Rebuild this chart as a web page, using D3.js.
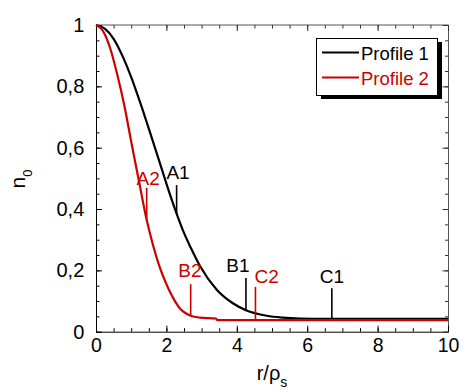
<!DOCTYPE html>
<html>
<head>
<meta charset="utf-8">
<script src="https://cdn.jsdelivr.net/npm/d3@7"></script>
<style>
  html, body { margin: 0; padding: 0; background: #fff; }
  svg { display: block; font-family: "Liberation Sans", Arial, sans-serif; }
</style>
</head>
<body>
<svg id="chart" width="464" height="390"></svg>
<script>
// ---- data ----
const p1R = [0, 0.25, 0.5, 0.78, 1.0, 1.16, 1.3, 1.5, 1.82, 2.0, 2.29, 2.5, 2.7, 2.95, 3.43, 3.9, 4.26, 4.85, 5.3, 5.8, 6.5, 10];
const p1N = [1.0, 0.988, 0.955, 0.892, 0.83, 0.779, 0.732, 0.662, 0.548, 0.483, 0.385, 0.322, 0.272, 0.215, 0.137, 0.092, 0.07, 0.052, 0.046, 0.043, 0.042, 0.042];
const p2R = [0, 0.2, 0.4, 0.6, 0.8, 1.0, 1.11, 1.2, 1.42, 1.53, 1.7, 1.82, 2.0, 2.1, 2.25, 2.39, 2.55, 2.69, 2.95, 3.4, 3.45, 10];
const p2N = [1.0, 0.98, 0.925, 0.84, 0.74, 0.62, 0.555, 0.503, 0.375, 0.322, 0.25, 0.207, 0.155, 0.13, 0.098, 0.075, 0.06, 0.052, 0.046, 0.043, 0.038, 0.038];
const seriesNames = ["Profile 1", "Profile 2"];
const seriesColors = ["#000000", "#cc0000"];

// annotation markers: label, series, r, top value, bottom value, label anchor (data units)
const markLabels = ["A1", "A2", "B1", "B2", "C2", "C1"];
const markSeries = [0, 1, 0, 1, 1, 0];
const markR      = [2.29, 1.44, 4.26, 2.69, 4.53, 6.7];
const markTop    = [0.478, 0.469, 0.175, 0.155, 0.146, 0.142];
const markBottom = [0.385, 0.366, 0.07, 0.052, 0.038, 0.042];
const labelR     = [2.33, 1.48, 4.03, 2.67, 4.85, 6.7];
const labelN     = [0.498, 0.478, 0.195, 0.178, 0.159, 0.159];

const xMajor = [0, 2, 4, 6, 8, 10];
const xMinor = d3.range(0, 10.001, 0.5);
const yMajor = [0, 0.2, 0.4, 0.6, 0.8, 1];
const yMinor = d3.range(0, 1.0001, 0.05);
const fmtY = d => d === 0 ? "0" : (d === 1 ? "1" : d3.format(".1f")(d).replace(".", ","));

// ---- layout ----
const svg = d3.select("#chart");
const L = 96, R = 448, T = 25, B = 331.7;
const x = d3.scaleLinear().domain([0, 10]).range([L, R]);
const y = d3.scaleLinear().domain([0, 1]).range([B, T]);

// frame top/right
svg.append("line").attr("x1", L).attr("x2", R + 0.5).attr("y1", T).attr("y2", T)
  .attr("stroke", "#555").attr("stroke-width", 1);
svg.append("line").attr("x1", R + 0.5).attr("x2", R + 0.5).attr("y1", T).attr("y2", B)
  .attr("stroke", "#555").attr("stroke-width", 1);

// bottom axis
const gx = svg.append("g").attr("transform", `translate(0,${B})`);
gx.call(d3.axisBottom(x).tickValues(xMinor).tickSizeInner(-3.5).tickSizeOuter(0).tickFormat(""));
gx.append("g").call(d3.axisBottom(x).tickValues(xMajor).tickSizeInner(-6).tickSizeOuter(0).tickPadding(6).tickFormat(d3.format("d")))
  .call(g => g.select(".domain").remove());
// top axis ticks
const gt = svg.append("g").attr("transform", `translate(0,${T})`);
gt.call(d3.axisTop(x).tickValues(xMinor).tickSizeInner(-3.5).tickSizeOuter(0).tickFormat(""));
gt.append("g").call(d3.axisTop(x).tickValues(xMajor).tickSizeInner(-6).tickSizeOuter(0).tickFormat(""));
gt.selectAll(".domain").remove();
gt.selectAll("line").attr("stroke", "#333");

// left axis
const gy = svg.append("g").attr("transform", `translate(${L},0)`);
gy.call(d3.axisLeft(y).tickValues(yMinor).tickSizeInner(-3.5).tickSizeOuter(0).tickFormat(""));
gy.append("g").call(d3.axisLeft(y).tickValues(yMajor).tickSizeInner(-6).tickSizeOuter(0).tickPadding(11.7).tickFormat(fmtY))
  .call(g => g.select(".domain").remove());
// right axis ticks
const gr = svg.append("g").attr("transform", `translate(${R + 0.5},0)`);
gr.call(d3.axisRight(y).tickValues(yMinor).tickSizeInner(-3.5).tickSizeOuter(0).tickFormat(""));
gr.append("g").call(d3.axisRight(y).tickValues(yMajor).tickSizeInner(-6).tickSizeOuter(0).tickFormat(""));
gr.selectAll(".domain").remove();
gr.selectAll("line").attr("stroke", "#333");

svg.selectAll(".tick text").attr("font-size", 20).attr("fill", "#000")
  .attr("font-family", "'Liberation Sans', Arial, sans-serif");
gx.selectAll(".tick text").attr("font-size", 19.5);
svg.selectAll(".domain").attr("stroke", "#000");

// curves
const line = d3.line().x(d => x(d[0])).y(d => y(d[1])).curve(d3.curveMonotoneX);
const series = [p1R.map((r, i) => [r, p1N[i]]), p2R.map((r, i) => [r, p2N[i]])];
series.forEach((s, i) => {
  svg.append("path").datum(s).attr("d", line)
    .attr("fill", "none").attr("stroke", seriesColors[i]).attr("stroke-width", 2.2)
    .attr("stroke-linejoin", "round");
});

// annotation markers
markLabels.forEach((lab, i) => {
  const c = seriesColors[markSeries[i]];
  svg.append("line").attr("x1", x(markR[i])).attr("x2", x(markR[i]))
    .attr("y1", y(markTop[i])).attr("y2", y(markBottom[i]))
    .attr("stroke", c).attr("stroke-width", 1.6);
  svg.append("text").attr("x", x(labelR[i])).attr("y", y(labelN[i]))
    .attr("text-anchor", "middle").attr("font-size", 19).attr("fill", c).text(lab);
});

// axis titles
const yt = svg.append("text").attr("transform", `translate(25,179) rotate(-90)`)
  .attr("text-anchor", "middle").attr("font-size", 21);
yt.append("tspan").text("n");
yt.append("tspan").attr("font-size", 13).attr("dy", 7).text("0");

const xt = svg.append("text").attr("x", (L + R) / 2).attr("y", 380)
  .attr("text-anchor", "middle").attr("font-size", 20);
xt.append("tspan").text("r/ρ");
xt.append("tspan").attr("font-size", 14).attr("dy", 7).text("s");

// legend
const lg = svg.append("g");
lg.append("rect").attr("x", 321).attr("y", 42).attr("width", 121).attr("height", 57).attr("fill", "#000");
lg.append("rect").attr("x", 316.5).attr("y", 38.5).attr("width", 121).attr("height", 57)
  .attr("fill", "#fff").attr("stroke", "#000").attr("stroke-width", 1);
seriesNames.forEach((name, i) => {
  const yy = 52.5 + i * 25;
  lg.append("line").attr("x1", 322).attr("x2", 359).attr("y1", yy).attr("y2", yy)
    .attr("stroke", seriesColors[i]).attr("stroke-width", 2);
  lg.append("text").attr("x", 361).attr("y", yy + 7).attr("font-size", 18.5)
    .attr("fill", seriesColors[i]).text(name);
});
</script>
</body>
</html>
